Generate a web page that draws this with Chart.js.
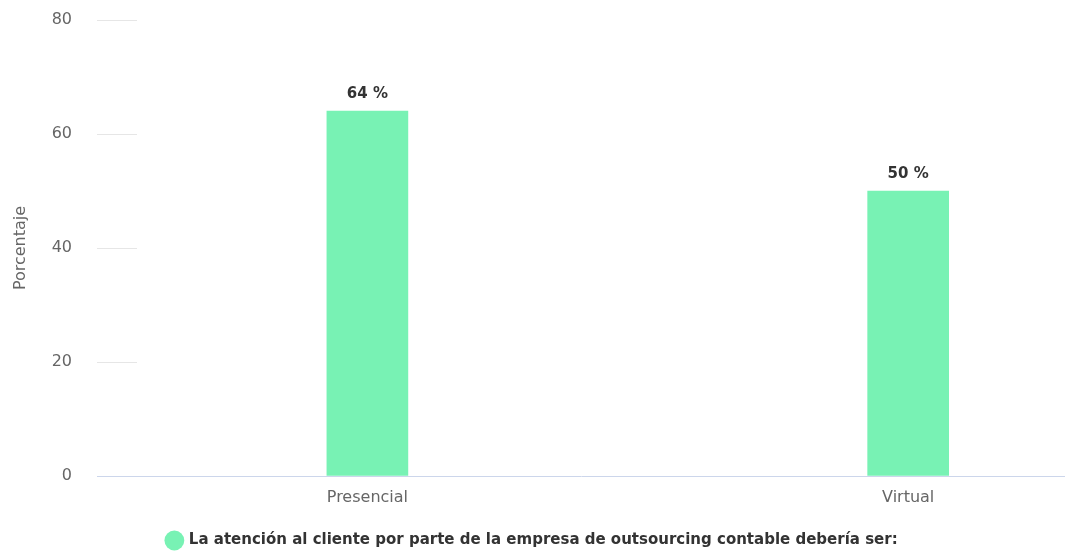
<!DOCTYPE html>
<html>
<head>
<meta charset="utf-8">
<script src="https://cdn.jsdelivr.net/npm/chart.js@4/dist/chart.umd.min.js"></script>
<style>
  html, body { margin: 0; padding: 0; background: #ffffff; overflow: hidden; }
</style>
</head>
<body>
<canvas id="chart" width="1065" height="558"></canvas>
<script>
// Datos del gráfico
const categories = ["Presencial", "Virtual"];
const values = [64, 50];
const yTicks = [0, 20, 40, 60, 80];
const seriesLabel = "La atención al cliente por parte de la empresa de outsourcing contable debería ser:";

// Líneas cortas de la cuadrícula (estilo del original)
const shortGrid = {
    id: "shortGrid",
    beforeDatasetsDraw(chart) {
        const ctx = chart.ctx;
        const y = chart.scales.y;
        const left = chart.chartArea.left;
        ctx.save();
        ctx.strokeStyle = "#e6e6e6";
        ctx.lineWidth = 1;
        y.ticks.forEach(function (t) {
            if (t.value === 0) return;
            const py = Math.round(y.getPixelForValue(t.value)) + 0.5;
            ctx.beginPath();
            ctx.moveTo(left, py);
            ctx.lineTo(left + 40, py);
            ctx.stroke();
        });
        ctx.restore();
    }
};

// Etiquetas de valor encima de las barras
const valueLabels = {
    id: "valueLabels",
    afterDatasetsDraw(chart) {
        const ctx = chart.ctx;
        const meta = chart.getDatasetMeta(0);
        ctx.save();
        ctx.font = "bold 15px 'DejaVu Sans'";
        ctx.fillStyle = "#333333";
        ctx.textAlign = "center";
        ctx.textBaseline = "middle";
        meta.data.forEach(function (bar, i) {
            ctx.fillText(values[i] + " %", bar.x, bar.y - 17);
        });
        ctx.restore();
    }
};

const ctx = document.getElementById("chart").getContext("2d");
new Chart(ctx, {
    type: "bar",
    data: {
        datasets: [{
            label: seriesLabel,
            data: values.map(function (v, i) { return { x: i, y: v }; }),
            backgroundColor: "#78f2b4",
            borderWidth: 0,
            barThickness: 81
        }]
    },
    options: {
        responsive: false,
        animation: false,
        layout: { padding: { top: 20, right: 0, left: 0, bottom: 0 } },
        plugins: {
            tooltip: { enabled: false },
            legend: {
                position: "bottom",
                labels: {
                    usePointStyle: true,
                    pointStyle: "circle",
                    boxWidth: 14,
                    boxHeight: 14,
                    padding: 3,
                    color: "#333333",
                    font: { family: "'DejaVu Sans'", size: 15, weight: "bold" }
                }
            }
        },
        scales: {
            x: {
                type: "linear",
                offset: false,
                min: -0.5,
                max: 1.29,
                grid: { display: false, drawTicks: false, offset: false },
                border: { display: true, color: "#ccd6eb", width: 1 },
                afterBuildTicks: function (scale) {
                    scale.ticks = categories.map(function (c, i) { return { value: i }; });
                },
                ticks: {
                    color: "#666666",
                    padding: 12,
                    maxRotation: 0,
                    autoSkip: false,
                    font: { family: "'DejaVu Sans'", size: 16 },
                    callback: function (v) { return categories[v]; }
                },
                afterFit: function (scale) { scale.height = 54; }
            },
            y: {
                min: 0,
                max: 80,
                afterBuildTicks: function (scale) {
                    scale.ticks = yTicks.map(function (v) { return { value: v }; });
                },
                grid: {
                    display: true,
                    drawOnChartArea: false,
                    drawTicks: true,
                    tickLength: 22,
                    tickColor: "rgba(0,0,0,0)"
                },
                border: { display: false },
                ticks: {
                    color: "#666666",
                    padding: 3,
                    font: { family: "'DejaVu Sans'", size: 16 }
                },
                title: {
                    display: true,
                    text: "Porcentaje",
                    color: "#666666",
                    padding: { top: 11, bottom: 0 },
                    font: { family: "'DejaVu Sans'", size: 16 }
                },
                afterFit: function (scale) { scale.width = 97; }
            }
        }
    },
    plugins: [shortGrid, valueLabels]
});
</script>
</body>
</html>
